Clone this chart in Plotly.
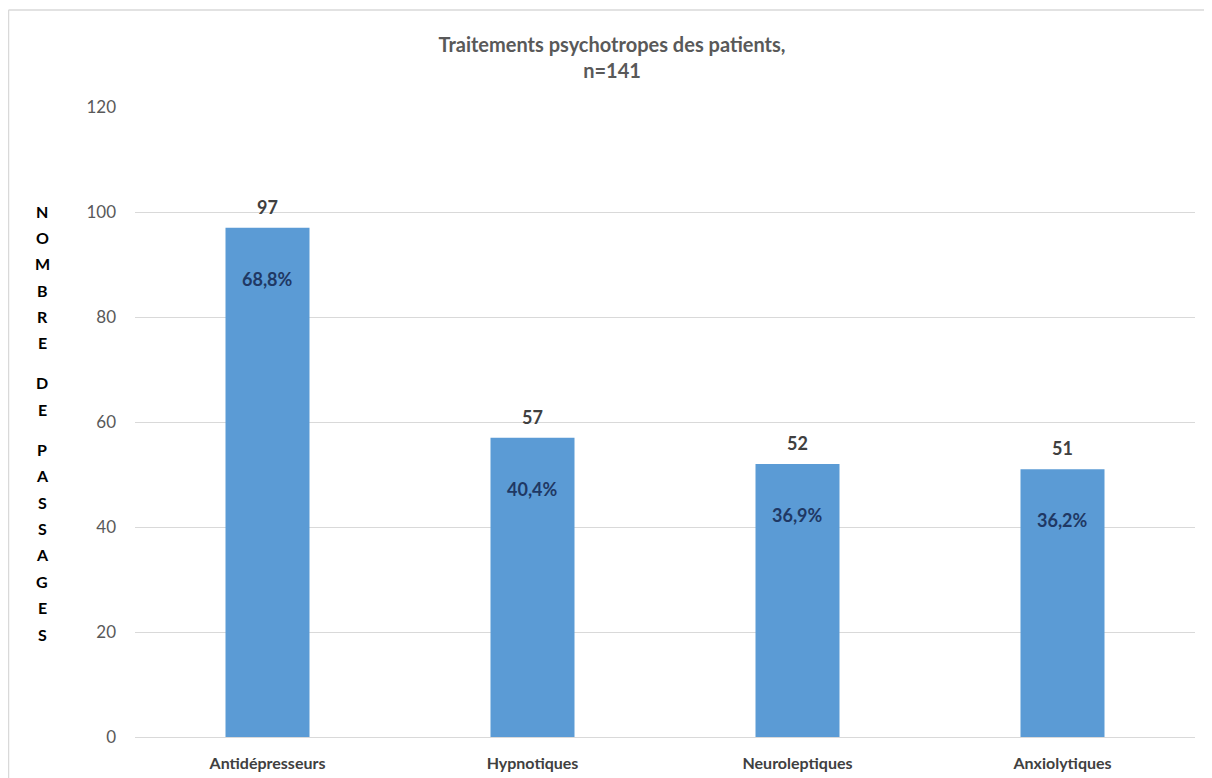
import plotly.graph_objects as go

categories = ['Antidépresseurs', 'Hypnotiques', 'Neuroleptiques', 'Anxiolytiques']
counts = [97, 57, 52, 51]
percents = ['68,8%', '40,4%', '36,9%', '36,2%']
y_title_letters = ['N', 'O', 'M', 'B', 'R', 'E', '', 'D', 'E', '', 'P', 'A', 'S', 'S', 'A', 'G', 'E', 'S']

FONT = 'Lato, sans-serif'
W, H = 1212, 778
OFF = 8  # page body margin in the browser
# plot area wanted on screen: x 135..1195, y 107..737
L, T = 135 - OFF, 107 - OFF
R, B = W + OFF - 1195, H + OFF - 737
PW, PH = W - L - R, H - T - B


def px_x(sx):
    return (sx - OFF - L) / PW


def px_y(sy):
    return 1 - (sy - OFF - T) / PH


fig = go.Figure()

fig.add_trace(go.Bar(
    x=categories,
    y=counts,
    marker=dict(color='#5B9BD5', line=dict(width=0)),
    hoverinfo='x+y'
))

# value labels above bars, percentages inside
for cat, n, pct in zip(categories, counts, percents):
    fig.add_annotation(x=cat, y=n, text='<b>%d</b>' % n, showarrow=False,
                       yanchor='bottom', yshift=8,
                       font=dict(family=FONT, size=18, color='#404040'))
    fig.add_annotation(x=cat, y=n, text='<b>%s</b>' % pct, showarrow=False,
                       yanchor='middle', yshift=-51,
                       font=dict(family=FONT, size=18, color='#1F3864'))

# stacked vertical axis title, one letter per line
y_px, step, gap = 211, 26.4, 40
for letter in y_title_letters:
    if letter == '':
        y_px += gap - step
        continue
    fig.add_annotation(xref='paper', yref='paper', x=px_x(42), y=px_y(y_px),
                       text='<b>%s</b>' % letter, showarrow=False,
                       xanchor='center', yanchor='middle',
                       font=dict(family=FONT, size=16, color='#000000'))
    y_px += step

# chart frame (top and left edges)
fig.add_shape(type='line', xref='paper', yref='paper', x0=px_x(8.5), x1=px_x(1220),
              y0=px_y(10), y1=px_y(10), line=dict(color='#D9D9D9', width=1.5))
fig.add_shape(type='line', xref='paper', yref='paper', x0=px_x(8.5), x1=px_x(8.5),
              y0=px_y(790), y1=px_y(10), line=dict(color='#D9D9D9', width=1.5))

fig.update_layout(
    width=W, height=H,
    margin=dict(l=L, r=R, t=T, b=B),
    title=dict(text='<b>Traitements psychotropes des patients,<br>n=141</b>',
               x=(612 - OFF) / W, xanchor='center', y=1 - 44 / H, yanchor='middle',
               font=dict(family=FONT, size=20, color='#595959')),
    font=dict(family=FONT),
    bargap=0.683,
    showlegend=False,
    paper_bgcolor='white',
    plot_bgcolor='white',
    xaxis=dict(
        tickfont=dict(family=FONT, size=16, color='#404040'),
        tickprefix='<b>', ticksuffix='</b>',
        showline=True, linecolor='#D9D9D9', linewidth=1,
        ticks='', showgrid=False, ticklabelstandoff=12
    ),
    yaxis=dict(
        range=[0, 120], dtick=20,
        tickfont=dict(family=FONT, size=17, color='#595959'),
        showgrid=True, gridcolor='#D9D9D9', gridwidth=1,
        zeroline=False, showline=False, ticks='', ticklabelstandoff=18
    )
)

fig.write_html('out.html')
